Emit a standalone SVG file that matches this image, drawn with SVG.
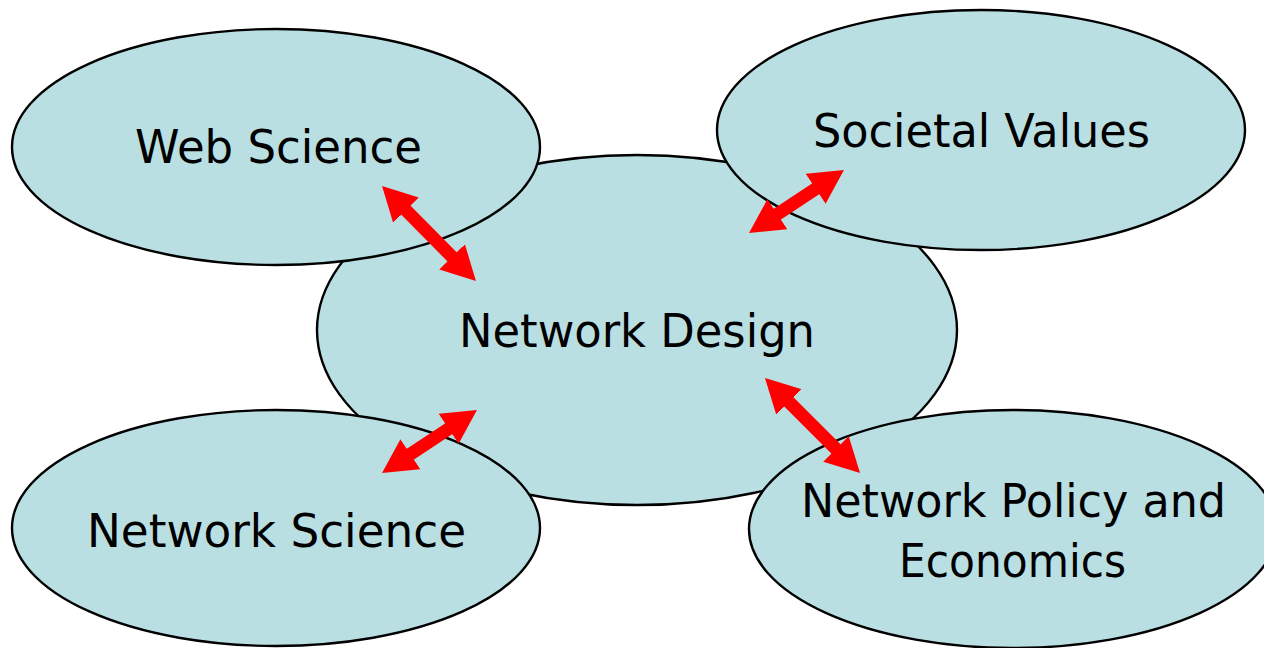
<svg xmlns="http://www.w3.org/2000/svg" width="1264" height="648" viewBox="0 0 1264 648">
<style>
.node{fill:#BADFE3;stroke:#000;stroke-width:2.4}
.lbl{font-family:"Comic Sans MS","DejaVu Sans",sans-serif;font-size:47px;fill:#000}
.arr{stroke:#FF0000;stroke-width:13;fill:none;marker-start:url(#ah);marker-end:url(#ah)}
</style>
<defs>
<marker id="ah" markerUnits="userSpaceOnUse" viewBox="0 0 34 36" refX="14" refY="18" markerWidth="34" markerHeight="36" orient="auto-start-reverse">
<path d="M0,0 L34,18 L0,36 Z" fill="#FF0000"/>
</marker>
</defs>
<rect width="1264" height="648" fill="#fff"/>
<g id="network-design">
<ellipse class="node" cx="637" cy="330" rx="320" ry="175"/>
<text class="lbl" x="459" y="347" textLength="356" lengthAdjust="spacingAndGlyphs">Network Design</text>
</g>
<g id="web-science">
<ellipse class="node" cx="276" cy="147" rx="264" ry="118"/>
<text class="lbl" x="135" y="163" textLength="287" lengthAdjust="spacingAndGlyphs">Web Science</text>
</g>
<g id="societal-values">
<ellipse class="node" cx="981" cy="130" rx="264" ry="120"/>
<text class="lbl" x="813" y="147" textLength="337" lengthAdjust="spacingAndGlyphs">Societal Values</text>
</g>
<g id="network-science">
<ellipse class="node" cx="276" cy="528" rx="264" ry="118"/>
<text class="lbl" x="87" y="547" textLength="379" lengthAdjust="spacingAndGlyphs">Network Science</text>
</g>
<g id="network-policy">
<ellipse class="node" cx="1013" cy="529" rx="264" ry="119"/>
<text class="lbl" x="801" y="517" textLength="425" lengthAdjust="spacingAndGlyphs">Network Policy and</text>
<text class="lbl" x="899" y="577" textLength="227" lengthAdjust="spacingAndGlyphs">Economics</text>
</g>
<g id="connectors">
<line class="arr" x1="396.1" y1="200.2" x2="461.9" y2="266.8"/>
<line class="arr" x1="765.7" y1="221.9" x2="827.3" y2="181.1"/>
<line class="arr" x1="398.7" y1="461.9" x2="460.3" y2="421.1"/>
<line class="arr" x1="779.1" y1="392.1" x2="845.9" y2="458.9"/>
</g>
</svg>
